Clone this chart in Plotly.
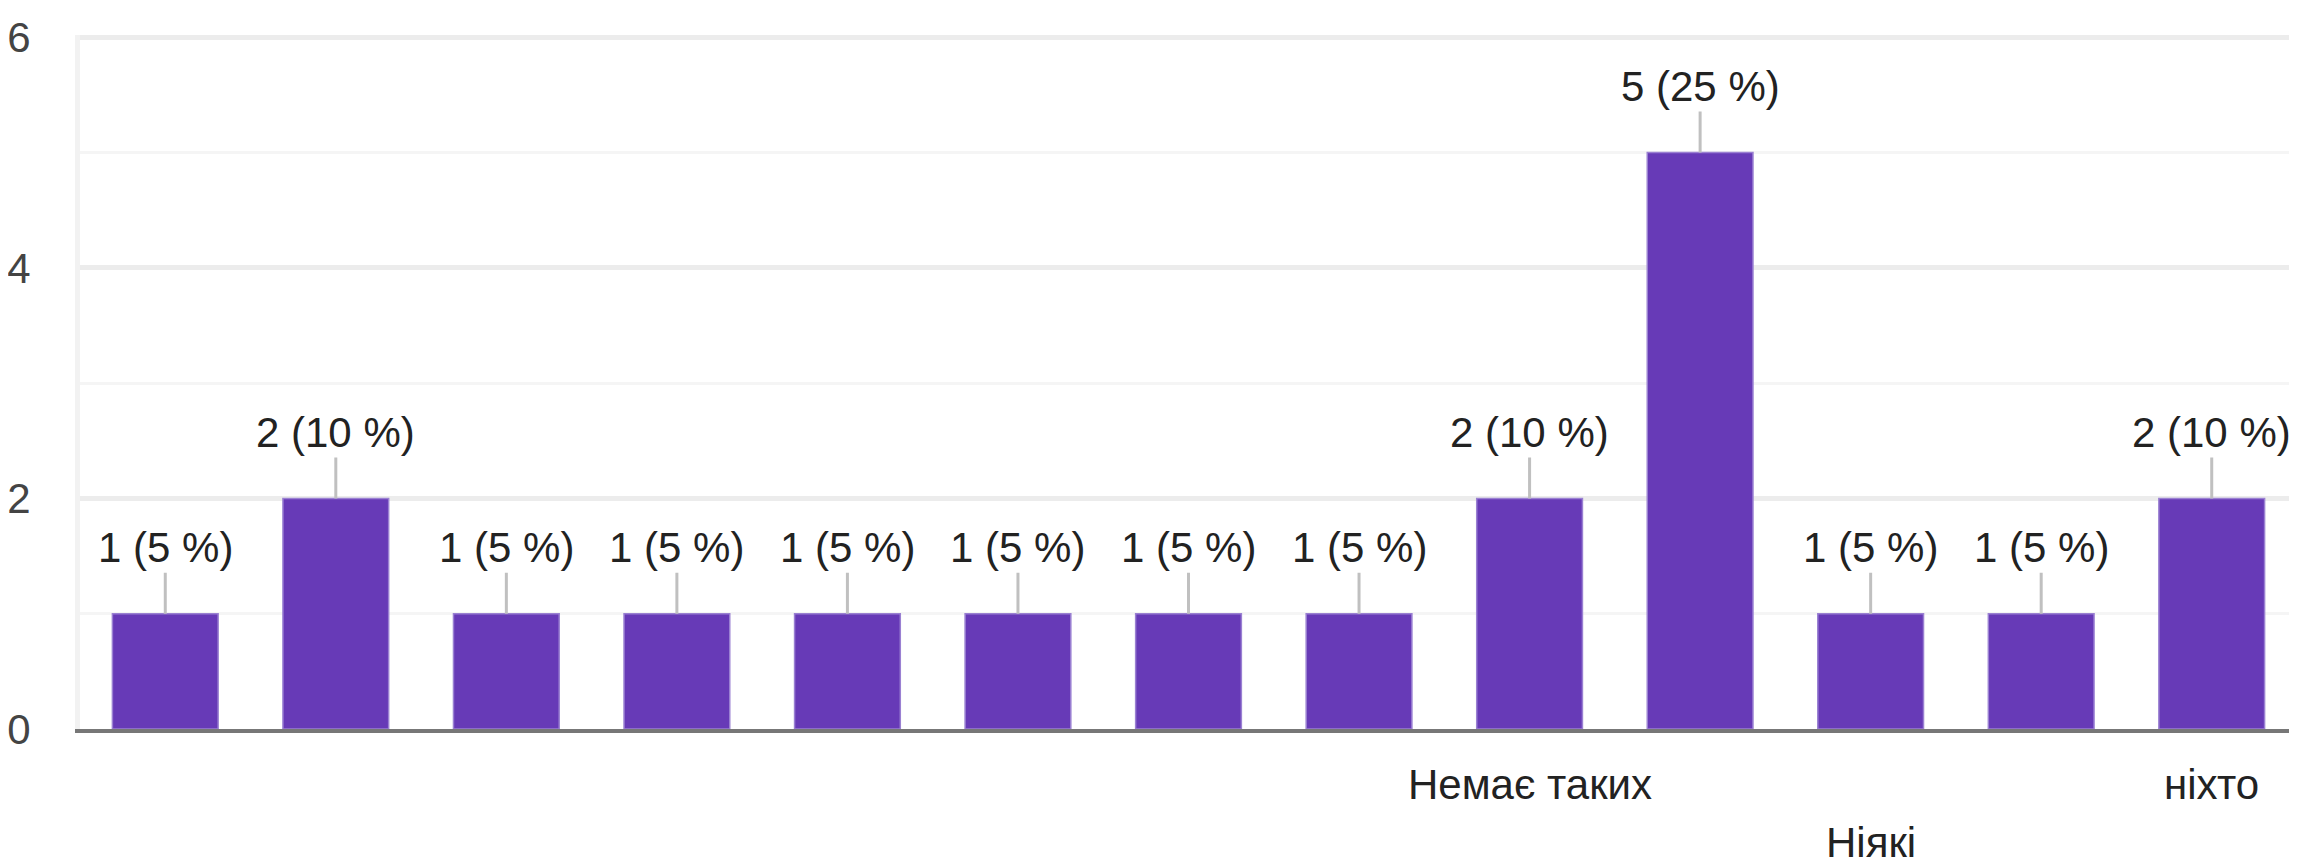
import plotly.graph_objects as go

# ---- data ----
categories = ["", "", "", "", "", "", "", "", "Немає таких", "", "Ніякі", "", "ніхто"]
counts = [1, 2, 1, 1, 1, 1, 1, 1, 2, 5, 1, 1, 2]
percents = [5, 10, 5, 5, 5, 5, 5, 5, 10, 25, 5, 5, 10]
y_ticks = [0, 2, 4, 6]

FONT = "Liberation Sans, Arial, sans-serif"
PURPLE = "#673ab7"

xs = list(range(len(categories)))

fig = go.Figure(
    go.Bar(
        x=xs,
        y=counts,
        width=0.62,
        marker=dict(color=PURPLE, line=dict(color="#9a80d2", width=1.5)),
        hoverinfo="skip",
    )
)

annotations = []
for i, (c, p) in enumerate(zip(counts, percents)):
    annotations.append(
        dict(
            x=i, y=c, xref="x", yref="y",
            text=f"{c} ({p} %)",
            showarrow=True, arrowhead=0, arrowwidth=3, arrowcolor="#c0c0c0",
            ax=0, ay=-66, standoff=0,
            font=dict(family=FONT, size=42, color="#222222"),
        )
    )

# staggered category labels (Google-Charts style alternate rows)
for i, name in enumerate(categories):
    if not name:
        continue
    row = (i // 2) % 2
    annotations.append(
        dict(
            x=i, xref="x", y=0, yref="y",
            yshift=-55 - row * 58,
            text=name, showarrow=False,
            font=dict(family=FONT, size=42, color="#222222"),
            yanchor="middle", borderpad=0,
        )
    )

# the page body adds an 8px offset, so the figure is sized/margined to compensate
fig.update_layout(
    width=2289,
    height=855,
    margin=dict(l=72, r=0, t=27, b=134),
    paper_bgcolor="white",
    plot_bgcolor="white",
    showlegend=False,
    annotations=annotations,
    font=dict(family=FONT, size=42, color="#444444"),
    xaxis=dict(
        range=[-0.5, len(categories) - 0.5],
        showticklabels=False,
        showgrid=False,
        zeroline=False,
        showline=True,
        linecolor="#777777",
        linewidth=4,
        ticks="",
        fixedrange=True,
    ),
    yaxis=dict(
        range=[0, 6.02],
        tickvals=y_ticks,
        ticktext=[str(v) for v in y_ticks],
        tickfont=dict(family=FONT, size=42, color="#444444"),
        showgrid=True,
        gridcolor="#ececec",
        gridwidth=5,
        minor=dict(tickvals=[1, 3, 5], showgrid=True, gridcolor="#f5f5f5", gridwidth=3),
        zeroline=False,
        showline=True,
        linecolor="#f2f2f2",
        linewidth=5,
        ticks="",
        ticklabelstandoff=36,
        fixedrange=True,
    ),
)

fig.write_html("out.html")
